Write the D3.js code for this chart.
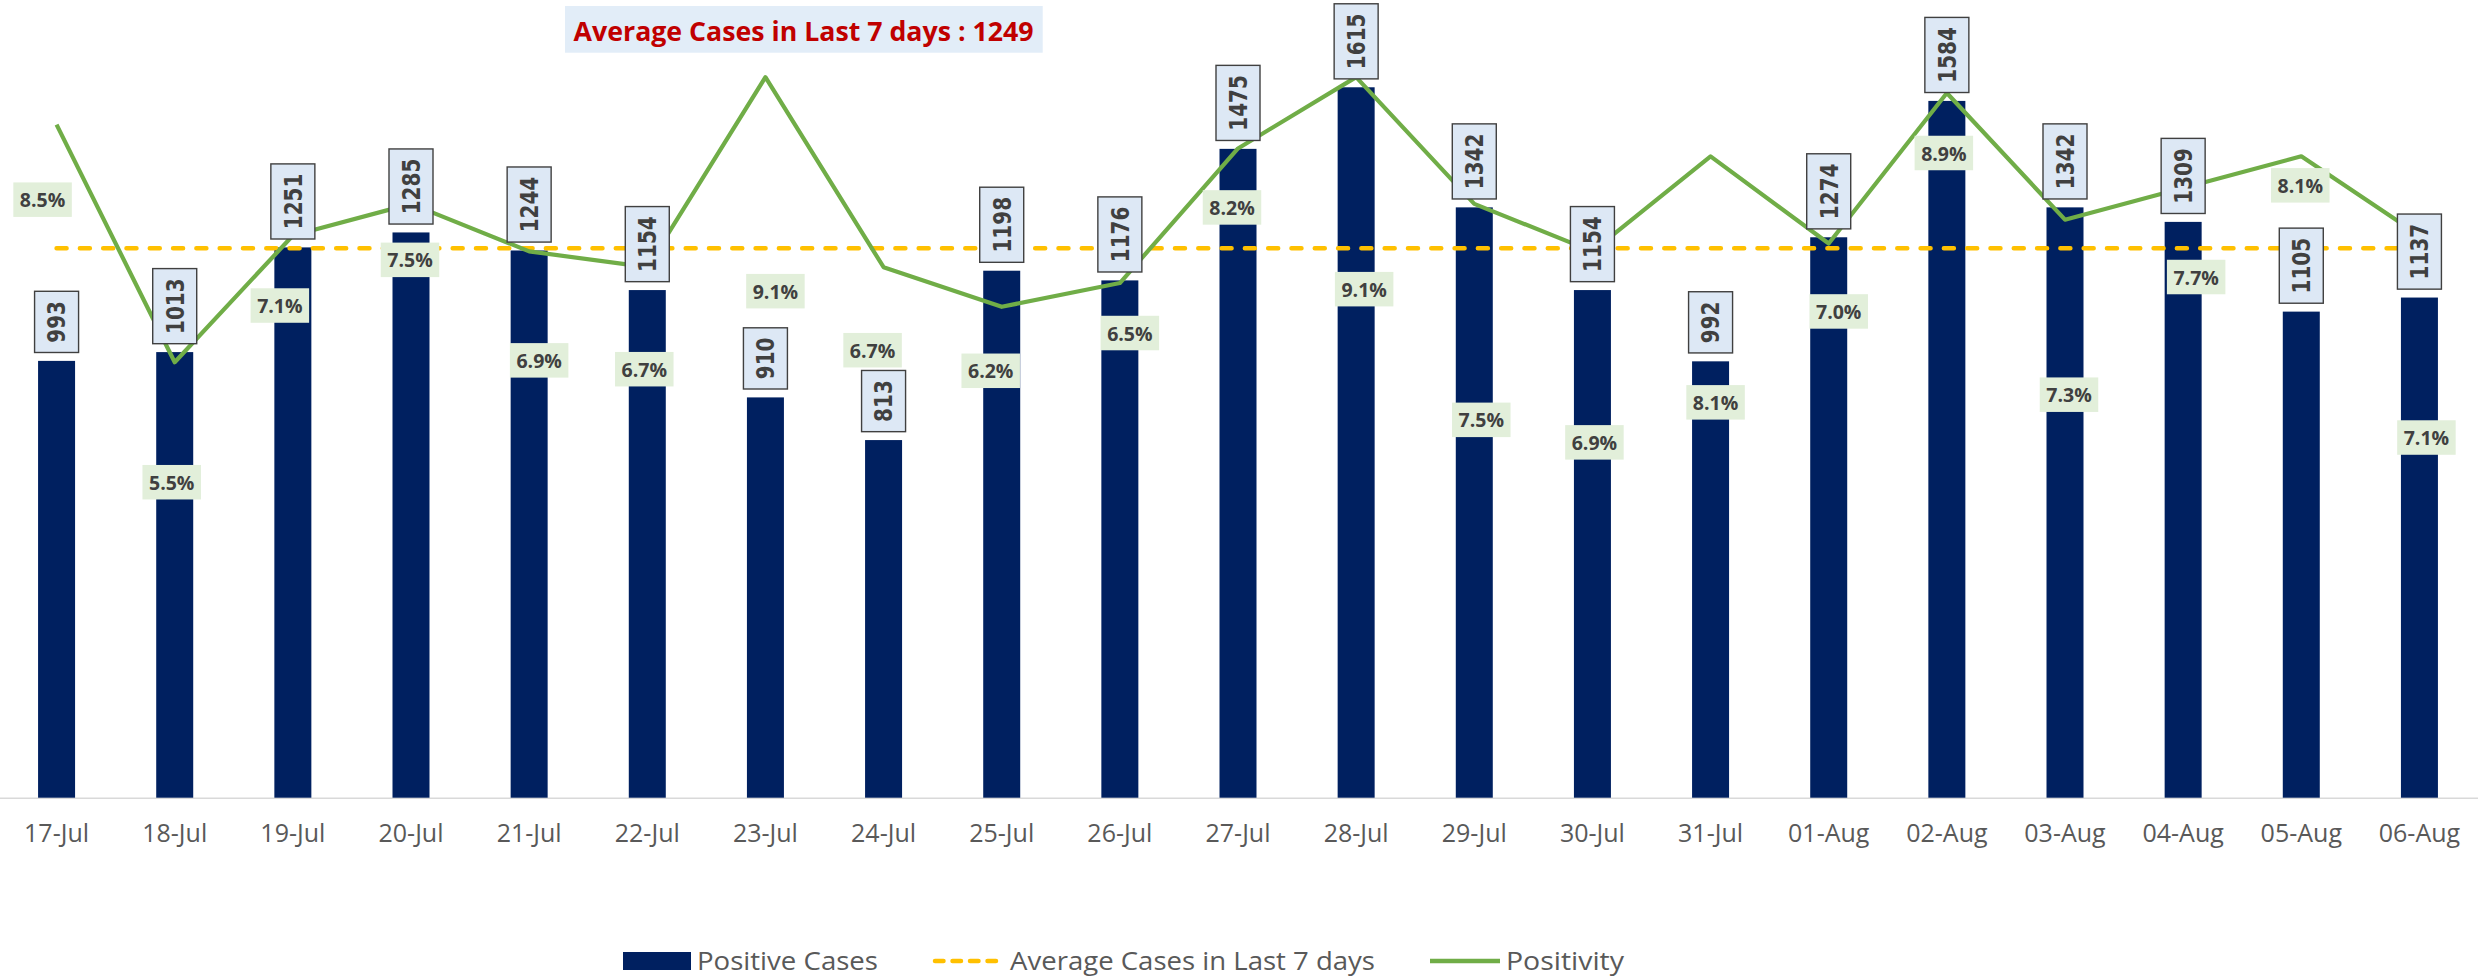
<!DOCTYPE html>
<html>
<head>
<meta charset="utf-8">
<script src="https://cdn.jsdelivr.net/npm/d3@7"></script>
<style>
  body { margin: 0; background: #ffffff; }
  svg { display: block; }
</style>
</head>
<body>
<svg id="chart" width="2478" height="976"></svg>
<script>
// ---------------- DATA ----------------
const categories = ["17-Jul","18-Jul","19-Jul","20-Jul","21-Jul","22-Jul","23-Jul","24-Jul","25-Jul","26-Jul","27-Jul","28-Jul","29-Jul","30-Jul","31-Jul","01-Aug","02-Aug","03-Aug","04-Aug","05-Aug","06-Aug"];
const positiveCases = [993,1013,1251,1285,1244,1154,910,813,1198,1176,1475,1615,1342,1154,992,1274,1584,1342,1309,1105,1137];
const positivity = [8.5,5.5,7.1,7.5,6.9,6.7,9.1,6.7,6.2,6.5,8.2,9.1,7.5,6.9,8.1,7.0,8.9,7.3,7.7,8.1,7.1];
const averageCases = 1249;
const seriesNames = ["Positive Cases","Average Cases in Last 7 days","Positivity"];
const titleText = "Average Cases in Last 7 days : " + averageCases;

// label placement (offsets of positivity labels from their points, px)
const positivityLabelOffsets = [[-14,75],[-3,120],[-13,70],[-1,56],[10,109],[-3,102],[10,214],[-11,83],[-11,64],[10,50],[-6,59],[8,212],[7,216],[2,191],[5,246],[10,68],[-3,60],[4,175],[13,89],[-1,29],[7,202]];

// ---------------- LAYOUT ----------------
const W = 2478, H = 976;
const baseY = 797.7, topY = 5.9;
const svg = d3.select("#chart");

const x = d3.scaleBand().domain(categories).range([-2.5, 2478.5]).padding(0);
const cx = d => x(d) + x.bandwidth() / 2;
const barW = 37;
const y = d3.scaleLinear().domain([0, 1800]).range([baseY, topY]);
const y2 = d3.scaleLinear().domain([0, 10]).range([baseY, topY]);

const navy = "#002060", gold = "#FFC000", green = "#70AD47";

// x axis
const xAxis = svg.append("g")
  .attr("transform", `translate(0,${baseY})`)
  .call(d3.axisBottom(x).tickSize(0).tickPadding(27));
xAxis.select(".domain").attr("stroke", "#D9D9D9").attr("stroke-width", 1.6);
xAxis.selectAll("text")
  .attr("font-family", "'Open Sans', sans-serif")
  .attr("font-size", 25)
  .attr("fill", "#595959");

// bars
svg.append("g").selectAll("rect")
  .data(categories)
  .join("rect")
  .attr("x", (d) => cx(d) - barW / 2)
  .attr("y", (d, i) => y(positiveCases[i]))
  .attr("width", barW)
  .attr("height", (d, i) => baseY - y(positiveCases[i]))
  .attr("fill", navy);

// average line
svg.append("path")
  .datum([categories[0], categories[categories.length - 1]])
  .attr("d", d3.line().x(d => cx(d)).y(() => y(averageCases)))
  .attr("fill", "none")
  .attr("stroke", gold)
  .attr("stroke-width", 4.5)
  .attr("stroke-linecap", "round")
  .attr("stroke-dasharray", "10,13.3");

// positivity line
svg.append("path")
  .datum(categories)
  .attr("d", d3.line().x(d => cx(d)).y((d, i) => y2(positivity[i])))
  .attr("fill", "none")
  .attr("stroke", green)
  .attr("stroke-width", 4.2)
  .attr("stroke-linejoin", "round");

// positivity labels
const pl = svg.append("g").selectAll("g")
  .data(categories)
  .join("g")
  .attr("transform", (d, i) => `translate(${cx(d) + positivityLabelOffsets[i][0]},${y2(positivity[i]) + positivityLabelOffsets[i][1]})`);
pl.append("rect")
  .attr("x", -29.25).attr("y", -17.25)
  .attr("width", 58.5).attr("height", 34.5)
  .attr("fill", "#E2EFDA");
pl.append("text")
  .attr("text-anchor", "middle")
  .attr("y", 7.6)
  .attr("font-family", "'Open Sans', sans-serif")
  .attr("font-weight", "bold")
  .attr("font-size", 19.5)
  .attr("fill", "#404040")
  .text((d, i) => positivity[i].toFixed(1) + "%");

// case value labels (rotated)
const vl = svg.append("g");
categories.forEach((c, i) => {
  const g = vl.append("g");
  const label = String(positiveCases[i]);
  const len = 13.9 * label.length;
  const h = len + 19.5;
  const bottom = y(positiveCases[i]) - 8.4;
  const mid = bottom - h / 2;
  g.append("rect")
    .attr("x", cx(c) - 22).attr("y", bottom - h)
    .attr("width", 44).attr("height", h)
    .attr("fill", "#DDE8F5")
    .attr("stroke", "#404040")
    .attr("stroke-width", 1.4);
  g.append("text")
    .attr("text-anchor", "middle")
    .attr("font-family", "'DejaVu Sans', sans-serif")
    .attr("font-weight", "bold")
    .attr("font-size", 24)
    .attr("fill", "#404040")
    .attr("textLength", len)
    .attr("lengthAdjust", "spacingAndGlyphs")
    .attr("transform", `translate(${cx(c) + 8.8},${mid}) rotate(-90)`)
    .text(label);
});

// title box
svg.append("rect")
  .attr("x", 565).attr("y", 6).attr("width", 477.7).attr("height", 46.7)
  .attr("fill", "#E2EDF8");
svg.append("text")
  .attr("x", 803.6).attr("y", 40.7)
  .attr("text-anchor", "middle")
  .attr("font-family", "'Open Sans', sans-serif")
  .attr("font-weight", "bold")
  .attr("font-size", 26)
  .attr("fill", "#C00000")
  .attr("textLength", 460)
  .attr("lengthAdjust", "spacingAndGlyphs")
  .text(titleText);

// legend
const leg = svg.append("g").attr("font-family", "'Open Sans', sans-serif").attr("font-size", 25.5).attr("fill", "#595959");
leg.append("rect").attr("x", 623).attr("y", 952).attr("width", 68).attr("height", 18).attr("fill", navy);
leg.append("text").attr("x", 697).attr("y", 970).attr("textLength", 181).attr("lengthAdjust", "spacingAndGlyphs").text(seriesNames[0]);
leg.append("line").attr("x1", 935).attr("x2", 999).attr("y1", 961).attr("y2", 961)
  .attr("stroke", gold).attr("stroke-width", 4.5).attr("stroke-linecap", "round").attr("stroke-dasharray", "8.5,9");
leg.append("text").attr("x", 1010).attr("y", 970).attr("textLength", 365).attr("lengthAdjust", "spacingAndGlyphs").text(seriesNames[1]);
leg.append("line").attr("x1", 1430).attr("x2", 1500).attr("y1", 961).attr("y2", 961)
  .attr("stroke", green).attr("stroke-width", 4.3);
leg.append("text").attr("x", 1506).attr("y", 970).attr("textLength", 118).attr("lengthAdjust", "spacingAndGlyphs").text(seriesNames[2]);
</script>
</body>
</html>
